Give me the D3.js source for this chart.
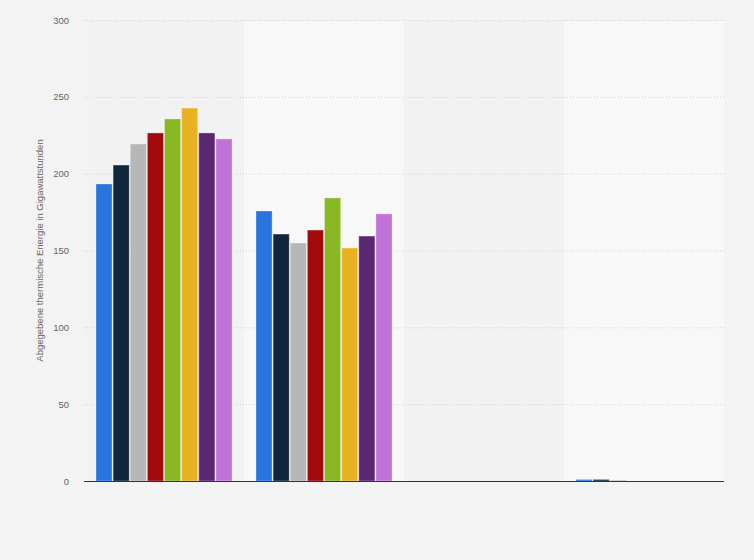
<!DOCTYPE html>
<html lang="de">
<head>
<meta charset="UTF-8">
<script src="https://d3js.org/d3.v7.min.js"></script>
<title>Abgegebene thermische Energie</title>
<style>
  body { margin: 0; background: #f3f3f3; }
  svg { display: block; font-family: "Liberation Sans", Arial, sans-serif; }
</style>
</head>
<body>
<script>
// Daten
var categories = ["A", "B", "C", "D"];
var series = ["S1", "S2", "S3", "S4", "S5", "S6", "S7", "S8"];
var colors = ["#2876dd", "#10263b", "#b7b7b7", "#a30a0c", "#88b924", "#e9b122", "#5a2872", "#c072d8"];
var values = [
  [193.3, 205.6, 219.3, 226.5, 235.6, 242.7, 226.5, 222.6],
  [175.7, 160.7, 154.9, 163.3, 184.2, 151.6, 159.4, 173.8],
  [0, 0, 0, 0, 0, 0, 0, 0],
  [1.0, 1.0, 0.6, 0, 0, 0, 0, 0]
];
var yTicks = [0, 50, 100, 150, 200, 250, 300];
var yTitle = "Abgegebene thermische Energie in Gigawattstunden";

var w = 754, h = 560;
var m = { left: 84, right: 30, top: 20, bottom: 79 };

var svg = d3.select("body").append("svg").attr("width", w).attr("height", h);

var x0 = d3.scaleBand().domain(categories).range([m.left, w - m.right]);
var x1 = d3.scaleBand().domain(series).range([12, x0.bandwidth() - 12]).paddingInner(0.06);
var y = d3.scaleLinear().domain([0, 300]).range([h - m.bottom, m.top]);

// abwechselnde Hintergrundstreifen
svg.selectAll("rect.band").data(categories).enter().append("rect")
  .attr("class", "band")
  .attr("x", function(d) { return x0(d); })
  .attr("y", y(300) + 1)
  .attr("width", x0.bandwidth())
  .attr("height", y(0) - y(300) - 1)
  .attr("fill", function(d, i) { return i % 2 ? "#f8f8f8" : "#f2f2f2"; });

// Gitterlinien + Beschriftung
var yAxis = d3.axisLeft(y).tickValues(yTicks).tickSize(-(w - m.left - m.right)).tickPadding(15);
var gy = svg.append("g").attr("transform", "translate(" + m.left + ",0)").call(yAxis);
gy.select(".domain").remove();
gy.selectAll(".tick line").attr("stroke", "#d2d2d2").attr("stroke-dasharray", "1,2");
gy.selectAll(".tick text").attr("fill", "#666").style("font-size", "9.5px");

// Balken
var groups = svg.selectAll("g.grp").data(values).enter().append("g")
  .attr("class", "grp")
  .attr("transform", function(d, i) { return "translate(" + x0(categories[i]) + ",0)"; });

groups.selectAll("rect").data(function(d) { return d; }).enter().append("rect")
  .attr("x", function(d, i) { return x1(series[i]); })
  .attr("y", function(d) { return y(d); })
  .attr("width", x1.bandwidth())
  .attr("height", function(d) { return y(0) - y(d); })
  .attr("fill", function(d, i) { return colors[i]; })
  .attr("stroke", function(d) { return d > 0 ? "rgba(255,255,255,0.3)" : "none"; })
  .attr("stroke-width", 1);

// Grundlinie
svg.append("line")
  .attr("x1", m.left).attr("x2", w - m.right)
  .attr("y1", y(0) + 0.5).attr("y2", y(0) + 0.5)
  .attr("stroke", "#333").attr("stroke-width", 1.2);

// Achsentitel
svg.append("text")
  .attr("transform", "translate(43," + ((y(0) + y(300)) / 2) + ") rotate(-90)")
  .attr("text-anchor", "middle")
  .attr("fill", "#666")
  .style("font-size", "9.5px")
  .text(yTitle);
</script>
</body>
</html>
